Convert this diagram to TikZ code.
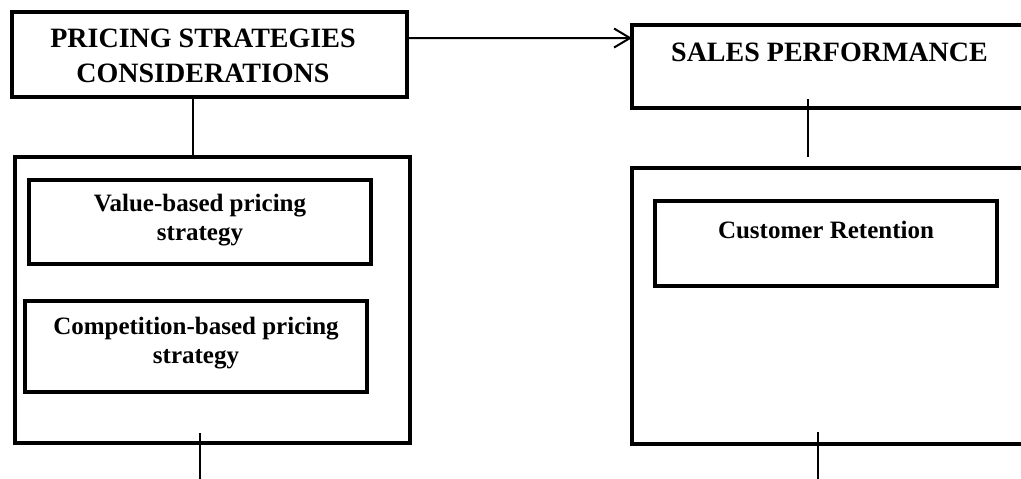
\documentclass[tikz,border=0pt]{standalone}
\usepackage{fontspec}
\setmainfont{Liberation Serif}
\usetikzlibrary{arrows.meta,calc}
\begin{document}
\begin{tikzpicture}[x=1pt,y=-1pt,
  box/.style={draw=black,line width=4.5pt,inner sep=0pt,outer sep=0pt,rectangle},
  conn/.style={draw=black,line width=2pt},
  head/.style={inner sep=0pt,align=center,font=\bfseries\fontsize{28}{35}\selectfont},
  itemtext/.style={inner sep=0pt,align=center,font=\bfseries\fontsize{25}{28.5}\selectfont}]
\useasboundingbox (0,0) rectangle (1021,479);
\clip (0,0) rectangle (1021,479);
% boxes
\node[box,minimum width=395pt,minimum height=85pt] (psc) at (209.5,54.5) {};
\node[box,minimum width=408pt,minimum height=83pt] (sp) at (836,66.5) {};
\node[box,minimum width=395pt,minimum height=286pt] (lb) at (212.5,300) {};
\node[box,minimum width=342pt,minimum height=84pt] (vb) at (200,222) {};
\node[box,minimum width=342pt,minimum height=91pt] (cb) at (196,346.5) {};
\node[box,minimum width=408pt,minimum height=276pt] (rb) at (836,306) {};
\node[box,minimum width=342pt,minimum height=85pt] (cr) at (826,243.5) {};
% texts
\node[head] (psct) at (203,56) {PRICING STRATEGIES\\CONSIDERATIONS};
\node[head] (spt) at (829.5,52.5) {SALES PERFORMANCE};
\node[itemtext] (vbt) at (200,220) {Value-based pricing\\strategy};
\node[itemtext] (cbt) at (196,343) {Competition-based pricing\\strategy};
\node[itemtext] (crt) at (826,230) {Customer Retention};
% connectors
\draw[conn,-{Straight Barb[length=16pt,width=19pt]}]
  ($(psc.north east)!0.306!(psc.south east)$) -- ($(sp.north west)!0.157!(sp.south west)$);
\coordinate (xl) at (193,0);
\draw[conn] (psc.south -| xl) -- (lb.north -| xl);
\coordinate (spa) at (808,99);
\coordinate (spb) at (808,157);
\draw[conn] (spa) -- (spb);
\coordinate (lba) at (200,433);
\coordinate (lbb) at (200,479);
\draw[conn] (lba) -- (lbb);
\coordinate (rba) at (818,432);
\coordinate (rbb) at (818,479);
\draw[conn] (rba) -- (rbb);
\end{tikzpicture}
\end{document}
